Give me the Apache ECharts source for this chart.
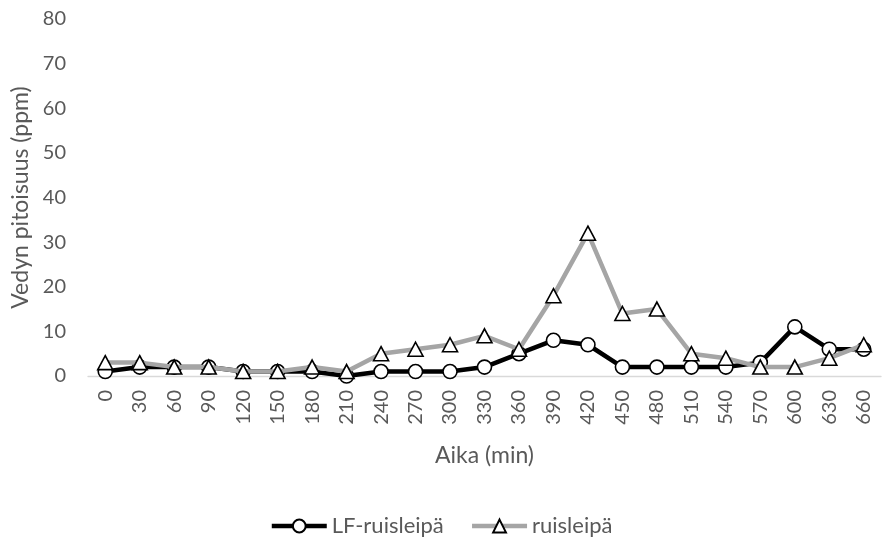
<!DOCTYPE html>
<html>
<head>
<meta charset="utf-8">
<script src="https://cdn.jsdelivr.net/npm/echarts@6/dist/echarts.min.js"></script>
<style>
  html, body { margin: 0; padding: 0; background: #fff; }
  #chart { width: 882px; height: 539px; }
</style>
</head>
<body>
<div id="chart"></div>
<script>
// Sampling times (min)
const times = ['0','30','60','90','120','150','180','210','240','270','300','330','360','390','420','450','480','510','540','570','600','630','660'];
// Hydrogen concentration (ppm) per bread
const lfRuisleipa = [1,2,2,2,1,1,1,0,1,1,1,2,5,8,7,2,2,2,2,3,11,6,6];
const ruisleipa   = [3,3,2,2,1,1,2,1,5,6,7,9,6,18,32,14,15,5,4,2,2,4,7];
const seriesNames = ['LF-ruisleipä', 'ruisleipä'];

const FONT = 'Lato, "Open Sans", sans-serif';
const TXT = '#595959';

const chart = echarts.init(document.getElementById('chart'), null, { renderer: 'canvas' });
chart.setOption({
  animation: false,
  backgroundColor: '#ffffff',
  textStyle: { fontFamily: FONT },
  grid: { left: 88, right: 1, top: 19, bottom: 163, containLabel: false, outerBoundsMode: 'none' },
  legend: {
    top: 510,
    left: 'center',
    itemWidth: 55,
    itemHeight: 16,
    itemGap: 26,
    lineStyle: { width: 4.5 },
    textStyle: { color: TXT, fontSize: 22, fontFamily: FONT, padding: [0, 0, 0, 0] },
    data: seriesNames
  },
  xAxis: {
    type: 'category',
    data: times,
    boundaryGap: true,
    name: 'Aika (min)',
    nameLocation: 'middle',
    nameGap: 68,
    nameTextStyle: { color: TXT, fontSize: 23, fontFamily: FONT },
    axisLine: { lineStyle: { color: '#d9d9d9', width: 1.3 } },
    axisTick: { show: false },
    axisLabel: { rotate: 90, color: TXT, fontSize: 20, margin: 14, fontFamily: FONT, interval: 0 }
  },
  yAxis: {
    type: 'value',
    min: 0,
    max: 80,
    interval: 10,
    name: 'Vedyn pitoisuus (ppm)',
    nameLocation: 'middle',
    nameGap: 54,
    nameTextStyle: { color: TXT, fontSize: 23, fontFamily: FONT },
    axisLine: { show: false },
    axisTick: { show: false },
    splitLine: { show: false },
    axisLabel: { color: TXT, fontSize: 20, margin: 22, fontFamily: FONT }
  },
  series: [
    {
      name: seriesNames[0],
      type: 'line',
      data: lfRuisleipa,
      symbol: 'circle',
      symbolSize: 14,
      lineStyle: { color: '#000000', width: 4.5 },
      itemStyle: { color: '#ffffff', borderColor: '#000000', borderWidth: 1.6 },
      z: 2
    },
    {
      name: seriesNames[1],
      type: 'line',
      data: ruisleipa,
      symbol: 'triangle',
      symbolSize: [15, 14],
      lineStyle: { color: '#a5a5a5', width: 4.5 },
      itemStyle: { color: '#ffffff', borderColor: '#000000', borderWidth: 1.6 },
      z: 3
    }
  ]
});
</script>
</body>
</html>
